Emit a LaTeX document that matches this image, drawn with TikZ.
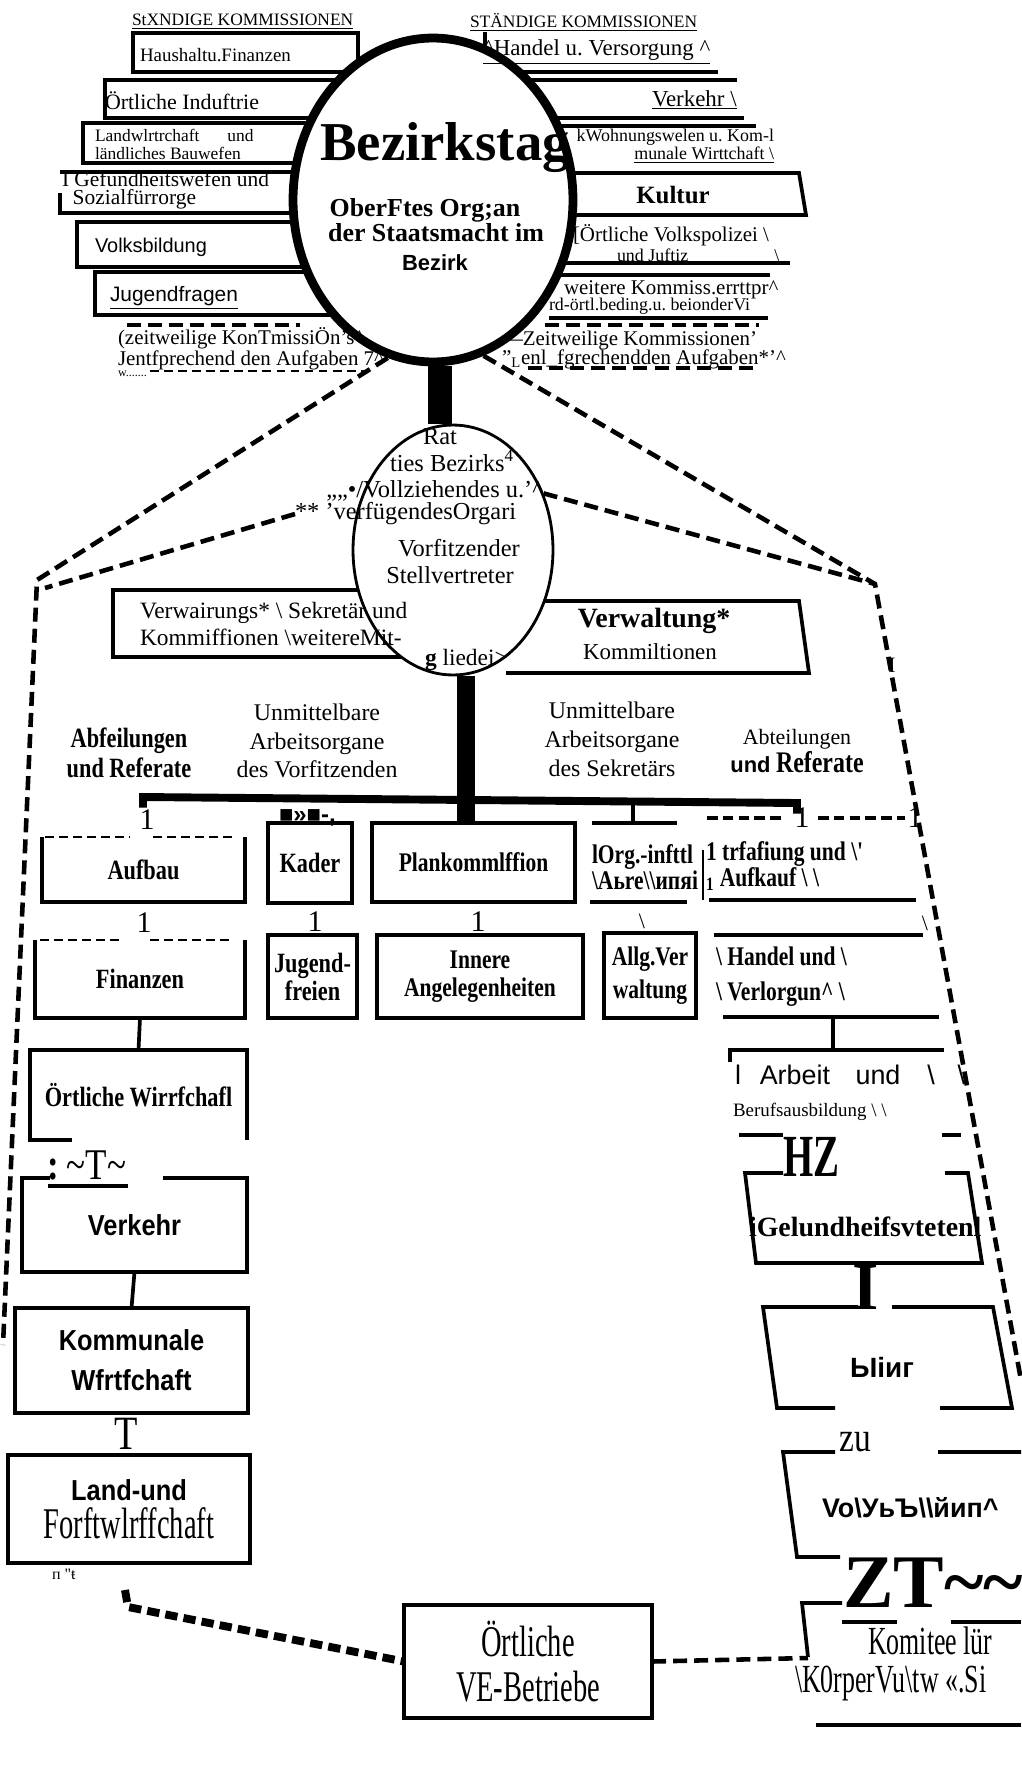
\documentclass[tikz,border=0pt]{standalone}
\usepackage{fontspec}
\setmainfont{Liberation Serif}
\setsansfont{Liberation Sans}
\newfontfamily\narrowrm[FakeStretch=0.8]{Liberation Serif}
\newfontfamily\condrm[FakeStretch=0.65]{Liberation Serif}
\newfontfamily\narrowsf[FakeStretch=0.88]{Liberation Sans}
\usetikzlibrary{shapes.geometric}
\frenchspacing
% sizes in picture pixels (1px = 0.02cm)
\newcommand\fs[2]{\fontsize{\fpeval{#1*0.567}}{\fpeval{#2*0.567}}\selectfont}
\tikzset{
  kline/.style={line width=2.1pt},
  dashln/.style={line width=2.6pt, dash pattern=on 8pt off 4pt},
  finedash/.style={line width=1.2pt, dash pattern=on 5pt off 3pt},
  lab/.style={inner sep=0pt, outer sep=0pt, anchor=west, align=left},
  clab/.style={inner sep=0pt, outer sep=0pt, align=center},
  amt/.style={draw, line width=2.1pt, inner sep=0pt, outer sep=0pt, align=center},
}
\begin{document}
\begin{tikzpicture}[x=0.02cm, y=-0.02cm]
\useasboundingbox (0,0) rectangle (1021,1785);
\fill[white] (0,0) rectangle (1021,1785);

% standing commissions, left
\draw[kline] (133,33) rectangle (358,72);
\draw[kline] (420,80) -- (105,80) -- (105,118) -- (420,118);
\draw[kline] (420,123) -- (83,123) -- (83,163) -- (420,163);
\draw[kline] (420,172) -- (60,172) (60,193) -- (60,213) -- (420,213);
\draw[kline] (420,222) -- (77,222) -- (77,267) -- (420,267);
\draw[kline] (420,272) -- (95,272) -- (95,315) -- (420,315);
\draw[dashln] (127,325) -- (300,325);
\draw[finedash] (150,371) -- (372,371);

% standing commissions, right
\draw[kline] (485,47) -- (485,32);
\draw[kline] (514,72) -- (718,72) (515,80) -- (737,80);
\draw[kline] (546,118) -- (744,118) (548,126) -- (756,126);
\draw[kline] (500,173) -- (799,173) -- (806,215) -- (500,215);
\draw[kline] (566,263) -- (790,263) (560,275) -- (770,275);
\draw[kline] (549,318) -- (768,318);
\draw[dashln] (545,325) -- (759,325) (528,368) -- (756,368);

% administration committees
\draw[kline] (113,590) rectangle (410,657);
\draw[kline] (500,601) -- (799,601) -- (809,673) -- (506,673);

% the two organs
\node[ellipse, draw, line width=5pt, fill=white, inner sep=0pt, minimum width=5.6cm, minimum height=6.48cm] (tag) at (433,200) {};
\node[ellipse, draw, line width=1.6pt, fill=white, inner sep=0pt, minimum width=4cm, minimum height=5cm] (rat) at (453,550) {};

% departments, left column
\node[amt, draw=none, minimum width=4.06cm, minimum height=1.3cm, font=\narrowrm\bfseries\fs{28}{30}] (aufb) at (143.5,869.5) {Aufbau};
\draw[kline] (aufb.north west) -- (aufb.south west) -- (aufb.south east) -- (aufb.north east);
\draw[finedash] (45,837) -- (130,837) (153,837) -- (235,837);
\node[amt, draw=none, minimum width=4.2cm, minimum height=1.56cm, font=\narrowrm\bfseries\fs{28}{30}] (finz) at (140,979) {Finanzen};
\draw[kline] (finz.north west) -- (finz.south west) -- (finz.south east) -- (finz.north east);
\draw[finedash] (40,940) -- (120,940) (150,940) -- (232,940);
\node[amt, draw=none, minimum width=4.34cm, minimum height=1.8cm, font=\narrowrm\bfseries\fs{28}{30}] (wirt) at (138.5,1095) {Örtliche Wirrfchafl};
\draw[kline] (wirt.south east) -- (wirt.north east) -- (wirt.north west) -- (wirt.south west) -- ++(42,0);
\node[amt, draw=none, minimum width=4.5cm, minimum height=1.88cm, font=\narrowsf\bfseries\fs{29}{32}] (verk) at (134.5,1225) {Verkehr};
\draw[kline] (verk.north west) ++(28,0) -- (verk.north west) -- (verk.south west) -- (verk.south east) -- (verk.north east) -- ++(-84,0);
\node[amt, minimum width=4.66cm, minimum height=2.1cm, font=\narrowsf\bfseries\fs{29}{40}] (komm) at (131.5,1360.5) {Kommunale\\Wfrtfchaft};
\node[amt, minimum width=4.84cm, minimum height=2.16cm, font=\narrowsf\bfseries\fs{29}{38}] (land) at (129,1509) {Land-und\\{\condrm\mdseries\fs{44}{38}Forftwlrffchaft}};

% departments, middle
\node[amt, minimum width=1.68cm, minimum height=1.6cm, font=\narrowrm\bfseries\fs{28}{30}] (kad) at (310,863) {Kader};
\node[amt, minimum width=1.78cm, minimum height=1.66cm, font=\narrowrm\bfseries\fs{28}{28}] (jug) at (312.5,976.5) {Jugend-\\freien};
\node[amt, minimum width=4.06cm, minimum height=1.58cm, font=\narrowrm\bfseries\fs{27}{30}] (plank) at (473.5,862.5) {Plankommlffion};
\node[amt, minimum width=4.12cm, minimum height=1.66cm, font=\narrowrm\bfseries\fs{27}{28}] (inn) at (480,976.5) {Innere\\Angelegenheiten};
\node[amt, minimum width=1.84cm, minimum height=1.7cm, font=\narrowrm\bfseries\fs{27}{33}] (allg) at (650,975.5) {Allg.Ver\\waltung};
\node[amt, minimum width=4.96cm, minimum height=2.26cm, font=\condrm\fs{44}{45}] (ve) at (528,1661.5) {Örtliche\\VE-Betriebe};

% departments, right column
\draw[kline] (592,823) -- (677,823) (590,902) -- (687,902);
\node[lab, font=\narrowrm\bfseries\fs{27}{26}] (org) at (592,867) {lOrg.-infttl\\\textbackslash Aьre\textbackslash\textbackslash ипяі};
\draw[line width=2pt, dash pattern=on 6pt off 3pt] (707,818) -- (785,818) (818,818) -- (905,818);
\draw[line width=1pt] (703,850) -- (703,900);
\draw[kline] (709,900) -- (916,900);
\node[lab, font=\narrowrm\bfseries\fs{27}{26}] (trf) at (706,866) {1 trfafiung und \textbackslash'\\\textsubscript{1} Aufkauf \textbackslash\ \textbackslash};
\draw[kline] (714,935) -- (923,935) (723,1017) -- (939,1017);
\node[lab, font=\narrowrm\bfseries\fs{27}{35}] (han) at (716,977) {\textbackslash\ Handel und \textbackslash\\\textbackslash\ Verlorgun\textasciicircum\ \textbackslash};
\draw[kline] (730,1062) -- (730,1050) -- (944,1050);
\draw[kline] (739,1135) -- (783,1135) (942,1135) -- (961,1135);
\node[lab, font=\sffamily\fs{27}{30}] (arb) at (735,1075) {l\hspace{0.7em}Arbeit\hspace{0.95em}und\hspace{1em}\textbackslash\hspace{0.85em}\textbackslash};
\node[lab, font=\fs{19}{22}] (beruf) at (733,1112) {Berufsausbildung \textbackslash\ \textbackslash};
\node[lab, font=\condrm\bfseries\fs{60}{60}] (hz) at (783,1157) {HZ};
\draw[kline] (783,1173) -- (745,1173) -- (756,1263) -- (982,1263) -- (968,1173) -- (945,1173);
\node[lab, font=\bfseries\fs{28}{30}] (ges) at (749,1227) {iGelundheifsvtetenl};
\node[clab, font=\bfseries\fs{68}{68}] (iconn) at (866,1287) {I};
\draw[kline] (858,1307) -- (763,1307) -- (777,1408) -- (835,1408) (940,1408) -- (1012,1408) -- (993,1307) -- (892,1307);
\node[clab, font=\sffamily\bfseries\fs{28}{30}] (blur) at (882,1367) {Ыiиг};
\node[clab, font=\narrowrm\fs{42}{42}] (zu) at (855,1442) {zu};
\draw[kline] (835,1452) -- (783,1452) -- (797,1557) -- (840,1557) (938,1452) -- (1021,1452);
\node[lab, font=\sffamily\bfseries\fs{27}{30}] (vol) at (822,1508) {Vo\textbackslash УьЪ\textbackslash\textbackslash йип\textasciicircum};
\node[lab, font=\bfseries\fs{76}{76}] (zt) at (843,1583) {ZT\textasciitilde\textasciitilde};
\draw[line width=2.5pt] (842,1622) -- (897,1622) (951,1622) -- (1021,1622);
\draw[kline] (842,1603) -- (802,1603) -- (808,1657);
\draw[kline] (816,1725) -- (1021,1725);
\node[lab, font=\condrm\fs{40}{40}] (kom1) at (868,1641) {Komitee lür};
\node[lab, font=\condrm\fs{40}{40}] (kom2) at (795,1683) {\textbackslash K0rperVu\textbackslash tw «.Si};

% small marks between the left boxes
\node[lab, font=\narrowrm\fs{44}{44}] (tsym) at (48,1165) {{\bfseries :}\,\textasciitilde T\textasciitilde};
\draw[line width=2.5pt] (48,1186) -- (128,1186);
\node[clab, font=\narrowrm\fs{48}{48}] (tconn) at (126,1434) {T};
\node[lab, font=\fs{16}{16}] (junk) at (52,1574) {п \textquotedbl{}ŧ};

% texts of the commissions, left
\node[lab, font=\fs{17.5}{18}] (stl) at (132,22) {\underline{StXNDIGE KOMMISSIONEN}};
\node[lab, font=\fs{19}{22}] (hf) at (140,55) {Haushaltu.Finanzen};
\node[lab, font=\fs{22}{22}] (oi) at (105,101) {Örtliche Induftrie};
\node[lab, font=\fs{17.5}{18}] (lw) at (95,146) {Landwlrtrchaft\hspace{1.6em}und\\\underline{ländliches Bauwefen}};
\node[lab, font=\fs{21.5}{19}] (gw) at (62,192) {I Gefundheitswefen und\\\hspace{0.5em}\underline{Sozialfürrorge}};
\node[lab, font=\sffamily\fs{20}{22}] (vb) at (95,247) {Volksbildung};
\node[lab, font=\sffamily\fs{21}{22}] (jf) at (110,298) {\underline{Jugendfragen}};
\node[lab, font=\fs{21}{21.5}] (zkl) at (118,349) {(zeitweilige KonTmissiÖn’s\textasciicircum\\Jentfprechend den Aufgaben 7\textasciicircum};
\node[lab, font=\fs{12}{12}] (wdots) at (118,374) {w.......};

% texts of the commissions, right
\node[lab, font=\fs{17.5}{18}] (str) at (470,22) {\underline{STÄNDIGE KOMMISSIONEN}};
\node[lab, font=\fs{23}{23}] (hv) at (483,52) {\underline{\textasciicircum Handel u. Versorgung \textasciicircum}};
\node[lab, font=\fs{23}{23}] (vkr) at (652,100) {\underline{Verkehr \textbackslash}};
\node[lab, anchor=east, align=right, font=\fs{18}{18}] (ww) at (774,146) {kWohnungswelen u. Kom-l\\\underline{munale Wirttchaft \textbackslash}};
\node[clab, font=\bfseries\fs{25}{25}] (ku) at (673,195) {Kultur};
\node[lab, font=\fs{21}{21}] (vp) at (573,235) {[Örtliche Volkspolizei \textbackslash};
\node[lab, font=\fs{18}{18}] (ju) at (617,255) {und Juftiz\hspace{4.8em}\textbackslash};
\node[lab, font=\fs{21}{21}] (wk) at (564,290) {weitere Kommiss.errttpr\textasciicircum};
\node[lab, font=\fs{18}{18}] (ob) at (549,308) {\underline{rd-örtl.beding.u. beionderVi}};
\node[lab, font=\fs{21}{19.5}] (zkr) at (502,350) {—Zeitweilige Kommissionen'\\”\textsubscript{L}enl\_fgrechendden Aufgaben*'\textasciicircum};

% texts in the two organs
\node[clab, font=\bfseries\fs{55}{55}] (bez) at (445,148) {Bezirkstag};
\node[clab, font=\bfseries\fs{26}{26}] (obs) at (425,210) {OberFtes Org;an};
\node[clab, font=\bfseries\fs{26}{26}] (dsm) at (436,233) {der Staatsmacht im};
\node[clab, font=\sffamily\bfseries\fs{22}{22}] (bzk) at (435,263) {Bezirk};
\node[clab, font=\fs{24.5}{25}] (rat1) at (440,437) {Rat};
\node[clab, font=\fs{24.5}{25}] (rat2) at (452,461) {ties Bezirks\textsuperscript{4}};
\node[clab, font=\fs{24.5}{25}] (rat3) at (435,491) {,,,,•/Vollziehendes u.’\textasciicircum};
\node[lab, font=\fs{24.5}{25}] (verf) at (295,514) {** 'verfügendesOrgari};
\node[clab, font=\fs{24.5}{25}] (rat5) at (459,548) {Vorfitzender};
\node[clab, font=\fs{24.5}{25}] (rat6) at (450,575) {Stellvertreter};

% texts of the administration committees
\node[lab, font=\fs{23.5}{28}] (vwl) at (140,624) {Verwairungs* \textbackslash\ Sekretär und\\Kommiffionen \textbackslash weitereMit-};
\node[lab, font=\fs{23.5}{28}] (glied) at (425,660) {{\bfseries g} liedei>};
\node[clab, font=\bfseries\fs{28}{28}] (vwr1) at (654,621) {Verwaltung*};
\node[clab, font=\fs{23}{23}] (vwr2) at (650,652) {Kommiltionen};

% headings over the bar
\node[clab, font=\narrowrm\bfseries\fs{28}{30}] (abfl) at (129,753) {Abfeilungen\\und Referate};
\node[clab, font=\fs{24}{28.5}] (uvor) at (317,741) {Unmittelbare\\Arbeitsorgane\\des Vorfitzenden};
\node[clab, font=\fs{24}{29}] (usek) at (612,739) {Unmittelbare\\Arbeitsorgane\\des Sekretärs};
\node[clab, font=\fs{22}{28}] (abtr) at (797,751) {Abteilungen\\{\sffamily\bfseries und} {\narrowrm\bfseries\fs{30}{28}Referate}};
\node[clab, font=\fs{22}{22}] (iright) at (892,665) {I};

% marks on the bar
\node[clab, font=\fs{30}{30}] (one1) at (147,820) {1};
\node[clab, font=\fs{30}{30}] (one2) at (802,818) {1};
\node[clab, font=\fs{30}{30}] (one3) at (915,818) {1};
\node[clab, font=\fs{30}{30}] (one4) at (144,923) {1};
\node[clab, font=\fs{30}{30}] (one5) at (315,922) {1};
\node[clab, font=\fs{30}{30}] (one6) at (478,922) {1};
\node[lab, font=\sffamily\bfseries\fs{24}{24}] (marks) at (279,818) {■»■-,};
\node[clab, font=\fs{22}{22}] (bs1) at (642,921) {\textbackslash};
\node[clab, font=\fs{22}{22}] (bs2) at (925,923) {\textbackslash};

% stems and bar
\coordinate (stemA) at (440,0);
\coordinate (stemB) at (466,0);
\coordinate (barL) at (143,797);
\coordinate (barR) at (797,803);
\coordinate (orgtop) at (633,823);
\draw[line width=14pt] (tag.south -| stemA) -- (rat.north -| stemA);
\draw[line width=10pt] (rat.south -| stemB) -- (plank.north -| stemB);
\draw[line width=4.5pt] ([yshift=-6pt]barL) -- (barL) -- (barR) -- ([yshift=-6pt]barR);
\draw[kline] (orgtop |- barR) -- (orgtop);

% vertical connectors
\coordinate (hanS) at (833,1017);
\coordinate (arbN) at (833,1050);
\draw[kline] (finz.south) -- (wirt.north);
\draw[kline] (verk.south) -- (komm.north);
\draw[kline] (hanS) -- (arbN);

% dashed lines
\coordinate (lcor) at (37,580);
\coordinate (lcor2) at (45,588);
\coordinate (lfoot) at (3,1345);
\coordinate (rcor) at (875,584);
\coordinate (rfoot) at (1021,1380);
\coordinate (landdrop) at (125,1590);
\coordinate (landknee) at (128,1607);
\coordinate (komw) at (808,1658);
\draw[dashln] (tag.254) -- (lcor) -- (lfoot);
\draw[dashln] (verf.west) -- (lcor2);
\draw[dashln] (tag.288) -- (rcor) -- (rfoot);
\draw[dashln] (rat.32) -- (rcor);
\draw[line width=4.5pt, dash pattern=on 7pt off 3.5pt] (landdrop) -- (landknee) -- (ve.west);
\draw[dashln] (ve.east) -- (komw);
\end{tikzpicture}
\end{document}
